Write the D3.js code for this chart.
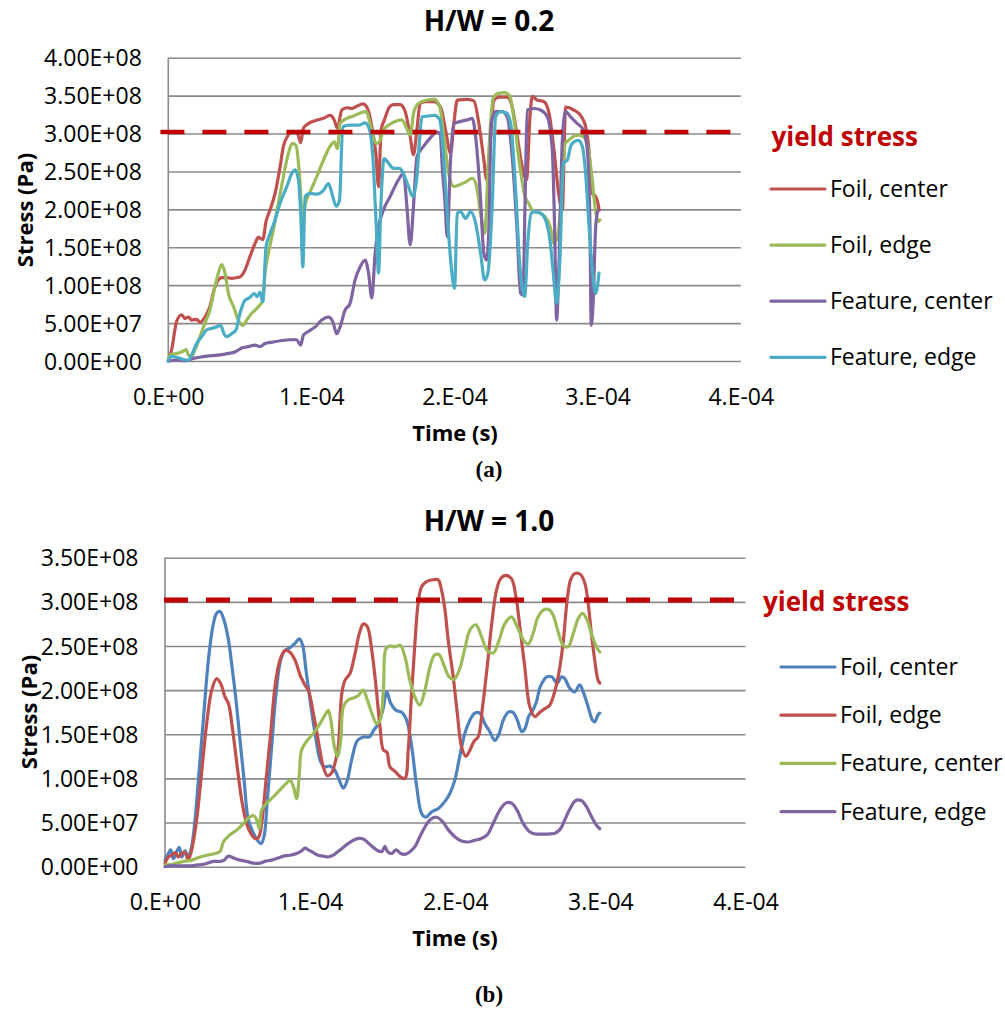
<!DOCTYPE html>
<html>
<head>
<meta charset="utf-8">
<script src="https://cdn.jsdelivr.net/npm/d3@7"></script>
<style>
  body { margin: 0; background: #fff; }
  svg { display: block; font-family: "Open Sans", "Noto Sans", sans-serif; }
</style>
</head>
<body>
<svg id="fig" width="1005" height="1010"></svg>
<script>
// Units: time in microseconds, stress in MPa.
const xTickValues = [0, 100, 200, 300, 400];
const xTickLabels = ["0.E+00", "1.E-04", "2.E-04", "3.E-04", "4.E-04"];
const yTickValuesA = [0, 50, 100, 150, 200, 250, 300, 350, 400];
const yTickLabelsA = ["0.00E+00", "5.00E+07", "1.00E+08", "1.50E+08", "2.00E+08", "2.50E+08", "3.00E+08", "3.50E+08", "4.00E+08"];
const yTickValuesB = [0, 50, 100, 150, 200, 250, 300, 350];
const yTickLabelsB = ["0.00E+00", "5.00E+07", "1.00E+08", "1.50E+08", "2.00E+08", "2.50E+08", "3.00E+08", "3.50E+08"];

const yieldStress = 302;
const yieldLineA = [[-5.5, yieldStress], [400, yieldStress]];
const yieldLineB = [[-0.7, yieldStress], [400, yieldStress]];

const seriesNamesA = ["Foil, center", "Foil, edge", "Feature, center", "Feature, edge"];
const seriesNamesB = ["Foil, center", "Foil, edge", "Feature, center", "Feature, edge"];

// H/W = 0.2  [time, stress]
const foilCenterA = [[0,0],[2.3,14.5],[5.8,52],[9.3,61],[11.7,56],[14,58],[16.3,54],[19.8,55],[22.1,51],[25.6,58],[29.1,72],[32.6,98],[35,107],[37.3,110],[40.8,110],[44.3,109],[47.8,110],[50.1,111],[53.6,120],[57.1,138],[60.6,155],[62.9,163],[66,160],[68.3,184],[71.1,199],[74.6,221],[78.1,256],[80.4,283],[83.2,296],[86.9,302],[90.2,300],[92.5,288],[94.4,307],[97.9,313],[102.6,317],[108.4,320],[113,324],[115.9,318],[118.2,307],[121.2,331],[124.7,334],[128.2,333],[131.7,336],[135.9,339],[139.2,333],[142.2,309],[145,274],[146.9,230],[148.7,305],[151,318],[154.5,335],[157.3,338],[162,338],[165.5,329],[169,296],[171.3,272],[173.7,305],[176,340],[180.7,342],[185.5,342],[190.2,335],[193.7,305],[197.2,274],[199.5,313],[201.9,344],[208.9,345],[213.5,343],[217,313],[220.5,265],[222.4,239],[224.7,283],[227.5,344],[231,348],[236.8,348],[240.3,335],[243.8,296],[247.3,256],[250.3,239],[252.7,322],[254.3,349],[257.8,344],[262.5,342],[266,327],[269.5,278],[273,217],[275.3,199],[277.6,335],[283.4,331],[288,324],[291.6,309],[293.9,278],[296.3,221],[298.6,217],[300.2,208],[301,199]];
const foilEdgeA = [[0,3.5],[2.3,9],[5.8,10],[9.3,12],[12.4,15],[14,8],[16.3,6],[18.6,14.5],[22.1,32],[25.6,50],[29.1,67],[32.6,98],[35,116],[37.3,127],[39.6,116],[42,89],[45.5,72],[48.9,54],[52,47],[54.8,54],[58.3,63],[61.8,69],[64.1,74],[66,80],[67.6,116],[69.9,142],[73.4,173],[76.9,208],[80.4,243],[83.9,274],[86.9,287],[89.3,284],[91.6,247],[94,186],[95.6,206],[99.1,223],[103.7,243],[108.4,265],[113,283],[116,289],[118.2,280],[120,313],[124.7,320],[129.4,323],[134,327],[138.2,329],[141.5,309],[143.8,291],[145.7,287],[148,291],[150.3,305],[153.8,311],[158.5,316],[163.2,318],[166.5,307],[169,298],[171.5,328],[175,340],[180.8,344],[186,345],[189.7,335],[192.5,296],[196,247],[199.5,230],[203,232],[207.7,236],[212.4,241],[215.4,230],[218.2,195],[221,168],[224,278],[226.9,346],[230.5,353],[235.2,354],[238.7,349],[242.2,309],[245.7,256],[249.2,217],[251.7,208],[255.2,197],[259.8,195],[263.3,190],[266.8,177],[269.5,155],[272.5,170],[275,230],[277.3,287],[279.6,291],[283,296],[286.6,298],[290,296],[293.5,278],[296.2,239],[298.1,204],[300.4,184],[301.6,186]];
const featureCenterA = [[0,0],[5.8,1.3],[12.8,0.4],[17.5,3.5],[24.5,5.7],[30.3,7],[36.1,8],[42,10],[46.6,12],[51.3,17],[55.9,19],[60.6,21],[64.1,19],[67.6,23],[73.4,25],[79.3,27],[85.1,28],[89.7,28],[92.5,21],[94.4,34],[97.9,39],[102.6,45],[107.2,54],[111.9,58],[114.9,52],[117.7,36],[120,45],[123.5,67],[127,76],[130.5,107],[134,124],[137.5,133],[139.9,116],[142.2,83],[144.5,142],[146.9,177],[150.3,199],[155,217],[160.8,239],[164.3,247],[166.7,204],[169,153],[171.3,204],[173.7,269],[178.3,283],[183,294],[187.6,302],[190,300],[191.4,256],[193.3,210],[194.9,164],[197.2,265],[199.5,313],[204.2,316],[208.9,318],[212.4,320],[214.7,296],[217.8,225],[220.5,142],[222.4,133],[224,177],[225.6,313],[228.7,329],[233.3,329],[236.8,322],[240.3,269],[243.4,182],[246.2,89],[247.8,87],[249.2,204],[250.8,331],[255.5,333],[260.1,331],[264.8,322],[268.3,278],[269.9,177],[271.3,54],[272.9,124],[275.3,291],[277.6,329],[281.1,322],[285.8,313],[290,305],[292.8,278],[294.6,177],[295.5,47],[296.9,80],[298.6,177],[300.2,199]];
const featureEdgeA = [[0,0],[2.3,6],[5.8,5],[10.5,2],[14,1],[16.3,8],[19.8,23],[23.3,32],[26.8,41],[30.3,43],[33.8,45],[36.6,47],[38.9,36],[40.8,32],[44.3,36],[47.3,41],[50.1,63],[53.6,80],[57.1,84],[59.9,89],[62.2,85],[64.1,91],[66,78],[68.3,151],[71.1,168],[74.6,186],[78.1,208],[82.8,230],[86.2,247],[88.6,252],[90.9,239],[92.5,195],[94,124],[95.6,217],[99.1,221],[103.7,220],[108.4,225],[111.9,234],[114.9,217],[117.2,204],[119.6,212],[121.9,309],[127,311],[132.9,311],[137.5,314],[140.6,305],[142.9,269],[145.2,182],[146.9,116],[148.5,204],[150.8,267],[153.8,261],[157.3,254],[161.5,254],[164.3,247],[167.8,230],[170.8,217],[173.5,239],[175.5,291],[177.2,322],[181.5,323],[186,324],[189.7,318],[192,278],[194.9,195],[197.7,124],[200,96],[201.9,195],[204.2,197],[207.7,188],[211.2,197],[214.7,182],[218.2,142],[221,107],[223.3,116],[226.3,204],[228.7,322],[232.2,329],[236.4,327],[239.2,313],[242.7,225],[245.7,124],[249,85],[251.3,160],[253.6,195],[256.7,197],[260.1,195],[263.6,186],[266.6,160],[269,116],[271.3,76],[273.7,138],[276,261],[278.8,265],[281.1,283],[283.4,289],[286.5,291],[289.3,283],[291.6,247],[294,177],[296.3,120],[298.6,89],[299.8,98],[300.9,116]];

// H/W = 1.0  [time, stress]
const foilCenterB = [[0,7.5],[2.3,15],[3.9,19],[5.7,9],[8.0,17],[9.9,22],[11.5,11],[13.8,18],[16.0,11],[18.4,23],[20.7,53],[23.0,98],[26.4,166],[29.9,234],[33.3,275],[35.6,287],[37.9,289],[40.7,279],[43.7,257],[45.9,230],[48.9,189],[51.7,143],[54.5,98],[57.4,53],[60.9,38],[63.7,30],[66.1,26],[68.2,34],[70.5,75],[73.5,136],[76.5,196],[79.7,234],[82.7,245],[86.1,248],[89.6,253],[92.6,258],[94.8,251],[97.1,223],[99.9,189],[103.4,151],[106.8,121],[109.6,113],[113.7,114],[117.1,109],[120.1,98],[122.9,89],[125.6,98],[128.6,121],[132.6,143],[136.6,147],[140.8,147],[144.0,155],[147.0,162],[150.0,177],[152.8,198],[155.5,185],[159.2,177],[163.1,175],[166.5,166],[170.0,136],[173.4,91],[176.9,60],[179.9,56],[183.7,62],[188.4,66],[192.9,74],[196.3,83],[199.7,98],[203.1,125],[206.6,151],[210.1,166],[213.5,174],[216.9,174],[220.4,162],[223.8,153],[227.3,143],[230.3,151],[233.1,166],[236.6,175],[239.6,175],[242.8,166],[245.8,153],[248.2,157],[250.5,170],[253.4,177],[256.0,187],[258.6,204],[263.1,215],[266.6,215],[270.1,208],[273.3,215],[275.5,213],[278.9,202],[282.3,198],[285.8,206],[288.6,196],[291.6,181],[294.5,166],[296.1,164],[298.4,172],[299.6,174]];
const foilEdgeB = [[0,4],[2.3,11],[4.6,13],[6.9,16],[9.2,11],[11.5,15],[13.8,16],[16.0,7.5],[18.4,19],[21.8,53],[25.2,106],[28.7,162],[32.2,200],[35.6,213],[38.5,207],[41.4,192],[43.7,185],[46.6,155],[49.8,113],[52.9,75],[56.2,49],[59.0,38],[62.0,32],[64.4,33],[66.6,49],[69.6,98],[72.8,151],[75.8,204],[79.2,234],[82.7,245],[86.1,243],[89.6,234],[93.1,217],[94.8,211],[97.1,204],[98.8,200],[102.2,174],[105.6,143],[109.1,113],[111.9,103],[114.8,106],[117.1,117],[119.4,136],[121.8,196],[124.0,211],[127.5,219],[131.0,242],[133.9,264],[136.6,275],[139.4,272],[142.5,245],[145.4,204],[148.2,158],[150.5,132],[152.8,130],[155.0,113],[158.5,108],[162.0,102],[165.3,100],[167.6,132],[169.9,196],[172.2,253],[174.4,298],[176.8,317],[180.2,323],[184.8,325],[188.2,325],[190.6,313],[192.9,291],[195.1,257],[198.6,215],[201.4,174],[204.3,136],[207.3,125],[210.1,132],[212.9,142],[215.8,147],[218.8,181],[222.0,226],[224.9,272],[228.4,313],[231.2,326],[234.8,330],[238.8,326],[241.8,306],[244.5,272],[247.9,226],[251.4,181],[254.8,170],[258.3,175],[261.7,179],[265.1,183],[267.4,192],[270.9,215],[274.3,253],[277.1,302],[279.5,325],[282.3,332],[286.3,331],[289.3,321],[291.6,298],[293.8,264],[296.1,234],[298.4,211],[299.6,208]];
const featureCenterB = [[0,2],[5.7,3],[12.7,6],[18.4,7.5],[24.2,11],[28.7,13],[34.5,15],[37.9,17],[40.2,28],[44.7,36],[49.8,42],[54.0,49],[57.4,55],[60.9,58],[63.2,53],[65.0,43],[66.6,64],[70.1,72],[74.6,79],[79.2,87],[83.4,94],[86.1,98],[88.4,91],[90.7,77],[92.6,106],[94.1,132],[97.6,142],[102.2,151],[106.8,162],[110.3,172],[112.6,177],[114.3,166],[116.7,136],[118.8,125],[121.1,143],[122.9,181],[126.3,189],[129.8,191],[133.3,194],[136.6,200],[139.4,189],[142.5,174],[145.8,162],[148.2,166],[150.5,200],[152.3,247],[155.0,250],[158.5,249],[162.0,251],[165.3,238],[168.7,211],[172.2,192],[175.6,183],[179.1,200],[182.5,226],[185.9,240],[189.0,240],[192.2,228],[195.8,215],[199.1,212],[202.8,223],[206.6,247],[210.1,268],[214.2,274],[218.2,260],[222.0,245],[226.1,242],[230.3,257],[234.1,275],[238.8,283],[242.6,272],[246.8,257],[250.3,252],[253.6,264],[257.1,283],[261.1,291],[264.7,291],[267.4,285],[270.9,266],[274.3,251],[277.8,249],[281.3,264],[284.7,281],[287.7,287],[291.0,279],[293.8,264],[297.3,249],[299.6,243]];
const featureEdgeB = [[0,0],[3.5,1],[10.3,1],[17.2,1],[23.0,2],[27.5,3],[33.3,6],[37.9,6],[40.7,7.5],[43.7,12],[47.1,10],[51.7,7.5],[56.2,6],[60.9,4],[65.4,4],[68.9,6],[73.5,7.5],[78.1,10],[81.6,12],[86.1,13],[90.7,15],[94.1,18],[96.4,21],[98.8,19],[102.2,16],[105.6,13],[109.1,12],[112.6,11],[116.0,13],[120.6,19],[125.2,25],[129.8,30],[133.9,32],[137.1,31],[141.3,25],[145.8,19],[149.3,17],[151.6,23],[153.3,17],[156.2,15],[159.2,19],[162.4,15],[165.4,14],[168.8,17],[172.3,23],[175.6,34],[179.1,45],[182.5,53],[187.1,56],[191.3,51],[195.1,42],[199.7,34],[204.3,29],[208.9,28],[213.5,30],[218.1,32],[222.0,36],[226.1,49],[230.7,64],[234.8,72],[238.8,72],[242.6,64],[246.8,49],[251.0,40],[255.1,37],[259.4,37],[264.0,37],[268.6,38],[272.1,42],[275.5,53],[278.9,65],[283.0,75],[286.9,75],[290.4,68],[293.8,57],[297.3,47],[299.6,43]];

const svg = d3.select("#fig");
const GRID = "#8a8a8a";

function drawPanel(p) {
  const x = d3.scaleLinear().domain([0, 400]).range([p.left, p.right]);
  const y = d3.scaleLinear().domain([0, p.yMax]).range([p.bottom, p.top]);
  const g = svg.append("g");

  // horizontal gridlines with the stress tick labels
  const yAxis = d3.axisLeft(y)
    .tickValues(p.yTicks)
    .tickFormat((d, i) => p.yLabels[i])
    .tickSize(-(p.right - p.left))
    .tickPadding(26.5);
  const ya = g.append("g").attr("transform", `translate(${p.left},0)`).call(yAxis);
  ya.attr("font-family", null);
  ya.select(".domain").remove();
  ya.selectAll("line").attr("stroke", GRID).attr("stroke-width", 1.6);
  ya.selectAll("text").attr("font-size", 23).attr("fill", "#000").attr("dy", "0.35em");

  // vertical axis line
  g.append("line")
    .attr("x1", p.left).attr("x2", p.left)
    .attr("y1", p.top).attr("y2", p.bottom)
    .attr("stroke", GRID).attr("stroke-width", 1.6);

  // time tick labels
  const xAxis = d3.axisBottom(x)
    .tickValues(xTickValues)
    .tickFormat((d, i) => xTickLabels[i])
    .tickSize(0)
    .tickPadding(p.xPad);
  const xa = g.append("g").attr("transform", `translate(0,${p.bottom})`).call(xAxis);
  xa.attr("font-family", null);
  xa.select(".domain").remove();
  xa.selectAll("text").attr("font-size", 23).attr("fill", "#000");

  // data series
  const line = d3.line()
    .x(d => x(d[0])).y(d => y(d[1]))
    .curve(p.curve);
  g.selectAll("path.series").data(p.series).join("path")
    .attr("class", "series")
    .attr("d", s => line(s.data))
    .attr("fill", "none")
    .attr("stroke", s => s.color)
    .attr("stroke-width", 3.2)
    .attr("stroke-linejoin", "round")
    .attr("stroke-linecap", "round");

  // yield stress reference
  g.append("path")
    .attr("d", d3.line().x(d => x(d[0])).y(d => y(d[1]))(p.yieldLine))
    .attr("fill", "none")
    .attr("stroke", "#C00000")
    .attr("stroke-width", p.dashWidth)
    .attr("stroke-dasharray", "24 18");

  // legend
  g.append("text")
    .attr("x", p.yieldLabel[0]).attr("y", p.yieldLabel[1])
    .attr("font-size", 26).attr("font-weight", "bold").attr("fill", "#C00000")
    .text("yield stress");
  const leg = g.selectAll("g.leg").data(p.series).join("g")
    .attr("class", "leg")
    .attr("transform", (s, i) => `translate(${p.legX},${p.legY + i * p.legStep})`);
  leg.append("line")
    .attr("x1", 0).attr("x2", 54)
    .attr("stroke", s => s.color).attr("stroke-width", 3.2)
    .attr("stroke-linecap", "round");
  leg.append("text")
    .attr("x", 59).attr("y", 0).attr("dy", "0.35em")
    .attr("font-size", 23).attr("fill", "#000")
    .text(s => s.name);

  // titles
  g.append("text")
    .attr("x", 489).attr("y", p.titleY)
    .attr("text-anchor", "middle")
    .attr("font-size", 28).attr("font-weight", "bold")
    .text(p.title);
  g.append("text")
    .attr("x", 455).attr("y", p.xTitleY)
    .attr("text-anchor", "middle")
    .attr("font-size", 22).attr("font-weight", "bold")
    .text("Time (s)");
  g.append("text")
    .attr("transform", `translate(${p.yTitleX},${p.yTitleY}) rotate(-90)`)
    .attr("text-anchor", "middle")
    .attr("font-size", 22).attr("font-weight", "bold")
    .text("Stress (Pa)");
  g.append("text")
    .attr("x", 489).attr("y", p.captionY)
    .attr("text-anchor", "middle")
    .style("font-family", "'Liberation Serif', 'Times New Roman', serif")
    .attr("font-size", 23).attr("font-weight", "bold")
    .text(p.caption);
}

drawPanel({
  title: "H/W = 0.2", caption: "(a)",
  left: 168.3, right: 740.8, top: 57.7, bottom: 361, yMax: 400,
  yTicks: yTickValuesA, yLabels: yTickLabelsA, xPad: 27.5,
  curve: d3.curveMonotoneX,
  series: [
    { name: seriesNamesA[0], color: "#C0504D", data: foilCenterA },
    { name: seriesNamesA[1], color: "#9BBB59", data: foilEdgeA },
    { name: seriesNamesA[2], color: "#8064A2", data: featureCenterA },
    { name: seriesNamesA[3], color: "#4BACC6", data: featureEdgeA }
  ],
  yieldLine: yieldLineA, dashWidth: 4.6,
  yieldLabel: [771.5, 146],
  legX: 771, legY: 189, legStep: 56.1,
  titleY: 31, xTitleY: 441, yTitleX: 33, yTitleY: 210, captionY: 477
});

drawPanel({
  title: "H/W = 1.0", caption: "(b)",
  left: 165, right: 745.5, top: 557.7, bottom: 866.7, yMax: 350,
  yTicks: yTickValuesB, yLabels: yTickLabelsB, xPad: 27,
  curve: d3.curveCatmullRom.alpha(0.5),
  series: [
    { name: seriesNamesB[0], color: "#4F81BD", data: foilCenterB },
    { name: seriesNamesB[1], color: "#C0504D", data: foilEdgeB },
    { name: seriesNamesB[2], color: "#9BBB59", data: featureCenterB },
    { name: seriesNamesB[3], color: "#8064A2", data: featureEdgeB }
  ],
  yieldLine: yieldLineB, dashWidth: 5,
  yieldLabel: [763, 611],
  legX: 781, legY: 667, legStep: 48.2,
  titleY: 531, xTitleY: 946, yTitleX: 36.7, yTitleY: 712, captionY: 1002
});
</script>
</body>
</html>
